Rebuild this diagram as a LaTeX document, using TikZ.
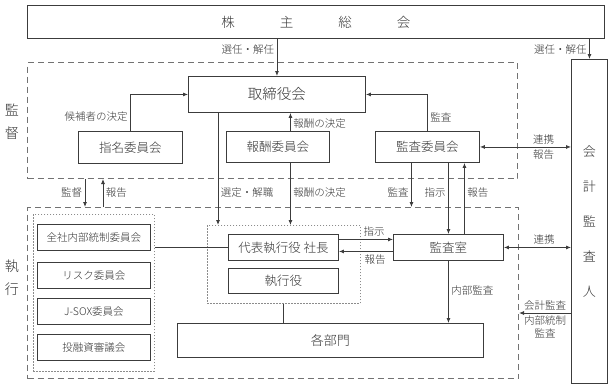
\documentclass[tikz,border=0pt]{standalone}
\usepackage{fontspec}
\setmainfont{Noto Sans CJK JP}[UprightFont=* Light]
\usetikzlibrary{arrows.meta,positioning,calc}
\definecolor{linec}{HTML}{3C3C3C}
\definecolor{textc}{HTML}{333333}
\definecolor{dashc}{HTML}{727272}
\definecolor{dotc}{HTML}{8C8C8C}

\begin{document}
\begin{tikzpicture}[x=1pt,y=-1pt,>={Latex[length=5pt,width=4pt]},
  box/.style={draw=linec,line width=0.9pt,fill=white,text=textc,inner sep=0pt,anchor=north west,font=\fontsize{12.5}{13}\selectfont},
  cbox/.style={box,minimum width=113pt,minimum height=26pt,font=\fontsize{10.5}{11}\selectfont},
  region/.style={draw=dashc,line width=1pt,dash pattern=on 6pt off 4pt,inner sep=0pt,anchor=north west},
  grp/.style={draw=dotc,line width=0.6pt,dash pattern=on 1.5pt off 1.5pt,inner sep=0pt,anchor=north west},
  lbl/.style={text=textc,font=\fontsize{10.5}{12.5}\selectfont,inner sep=2.5pt},
  arr/.style={draw=linec,line width=0.8pt},
  side/.style={text=textc,font=\fontsize{14}{23}\selectfont,align=center}]
\useasboundingbox (0,0) rectangle (612,388);

% regions
\node[region,minimum width=490pt,minimum height=116pt] (kantokuR) at (27,62) {};
\node[region,minimum width=491pt,minimum height=171pt] (shikkoR) at (27,207) {};
\node[grp,minimum width=121pt,minimum height=157pt] (leftgrp) at (33,214) {};
\node[grp,minimum width=153pt,minimum height=78pt] (execgrp) at (207,225) {};
\node[side] (kantokuL) at (12,121.5) {監\\督};
\node[side] (shikkoL) at (12,277.5) {執\\行};

% boxes
\node[box,minimum width=577pt,minimum height=33pt,font=\fontsize{13.5}{14}\selectfont] (kabunushi) at (27,5)
  {株\hspace{45pt}主\hspace{45pt}総\hspace{45pt}会};
\node[box,minimum width=177pt,minimum height=36pt,font=\fontsize{14.5}{15}\selectfont] (torishimari) at (188,76) {取締役会};
\node[box,minimum width=104pt,minimum height=32pt] (shimei) at (78,131) {指名委員会};
\node[box,minimum width=103pt,minimum height=31pt] (houshu) at (226,131) {報酬委員会};
\node[box,minimum width=104pt,minimum height=31pt] (kansaI) at (375,131) {監査委員会};
\node[box,minimum width=36pt,minimum height=324pt,align=center,font=\fontsize{13}{35}\selectfont] (kaikei) at (571,59) {会\\計\\監\\査\\人};
\node[cbox] (naibu) at (37,224) {全社内部統制委員会};
\node[cbox] (risk) at (37,262) {リスク委員会};
\node[cbox] (jsox) at (37,298) {J-SOX委員会};
\node[cbox] (touyuushi) at (37,334) {投融資審議会};
\node[box,minimum width=110pt,minimum height=26pt] (daihyo) at (228,234) {代表執行役 社長};
\node[box,minimum width=110pt,minimum height=25pt] (shikkoyaku) at (228,268) {執行役};
\node[box,minimum width=110pt,minimum height=26pt] (kansaShitsu) at (393,234) {監査室};
\node[box,minimum width=306pt,minimum height=34pt,font=\fontsize{13}{14}\selectfont] (kakubu) at (177,323) {各部門};

% connectors
\coordinate (senx) at ([xshift=30pt]torishimari.south west);
\coordinate (hosx) at ([xshift=12.5pt]houshu.north);
\coordinate (kax) at ([xshift=-16pt]kansaI.south);
\coordinate (shx) at (kansaShitsu.north |- kansaI.south);
\coordinate (hkx) at ([xshift=37pt]kansaI.south);
\coordinate (kdx) at ([xshift=58pt]kantokuR.south west);
\coordinate (hrx) at ([xshift=76pt]kantokuR.south west);
\coordinate (kaud) at (kaikei.west |- 0,313);

\draw[arr,->] (kabunushi.south -| torishimari.north) -- (torishimari.north)
  node[lbl,left,pos=0.29] {選任・解任};
\draw[arr,->] (kabunushi.south -| kaikei.north) -- (kaikei.north)
  node[lbl,left,pos=0.52] {選任・解任};
\draw[arr,->] (shimei.north) |- (torishimari.west)
  node[lbl,left,pos=0.2] {候補者の決定};
\draw[arr,->] (hosx) -- (hosx |- torishimari.south)
  node[lbl,right,pos=0.4] {報酬の決定};
\draw[arr,->] (kansaI.north) |- (torishimari.east)
  node[lbl,right,pos=0.19] {監査};
\draw[arr,->] (senx) -- (senx |- execgrp.north)
  node[lbl,right,pos=0.71] {選定・解職};
\draw[arr,->] (hosx |- houshu.south) -- (hosx |- execgrp.north)
  node[lbl,right,pos=0.48] {報酬の決定};
\draw[arr,->] (kax) -- (kax |- shikkoR.north)
  node[lbl,left,pos=0.67] {監査};
\draw[arr,->] (shx) -- (kansaShitsu.north)
  node[lbl,left,pos=0.42] {指示};
\draw[arr,->] (hkx |- kansaShitsu.north) -- (hkx)
  node[lbl,right,pos=0.58] {報告};
\draw[arr,<->] (kansaI.east) -- (kansaI.east -| kaikei.west)
  node[lbl,above,pos=0.7] {連携} node[lbl,below,pos=0.7] {報告};
\draw[arr,<->] (kansaShitsu.east) -- (kansaShitsu.east -| kaikei.west)
  node[lbl,above,pos=0.6] {連携};
\draw[arr,->] ([yshift=8pt]daihyo.east) -- ([yshift=8pt]daihyo.east -| kansaShitsu.west)
  node[lbl,above,pos=0.65] {指示};
\draw[arr,->] ([yshift=-4pt]kansaShitsu.west) -- ([yshift=-4pt]kansaShitsu.west -| daihyo.east)
  node[lbl,below,pos=0.33] {報告};
\draw[arr] (leftgrp.east |- daihyo.west) -- (daihyo.west);
\draw[arr] (execgrp.south) -- (execgrp.south |- kakubu.north);
\draw[arr,->] (kansaShitsu.south) -- (kansaShitsu.south |- kakubu.north)
  node[lbl,right,pos=0.48] {内部監査};
\draw[arr,->] (kaud) -- (kaud -| shikkoR.east)
  node[lbl,above,pos=0.5] {会計監査} node[lbl,below,pos=0.5,align=center] {内部統制\\監査};
\draw[arr,->] (kdx) -- (kdx |- shikkoR.north)
  node[lbl,left,pos=0.5] {監督};
\draw[arr,->] (hrx |- shikkoR.north) -- (hrx)
  node[lbl,right,pos=0.5] {報告};
\end{tikzpicture}
\end{document}
